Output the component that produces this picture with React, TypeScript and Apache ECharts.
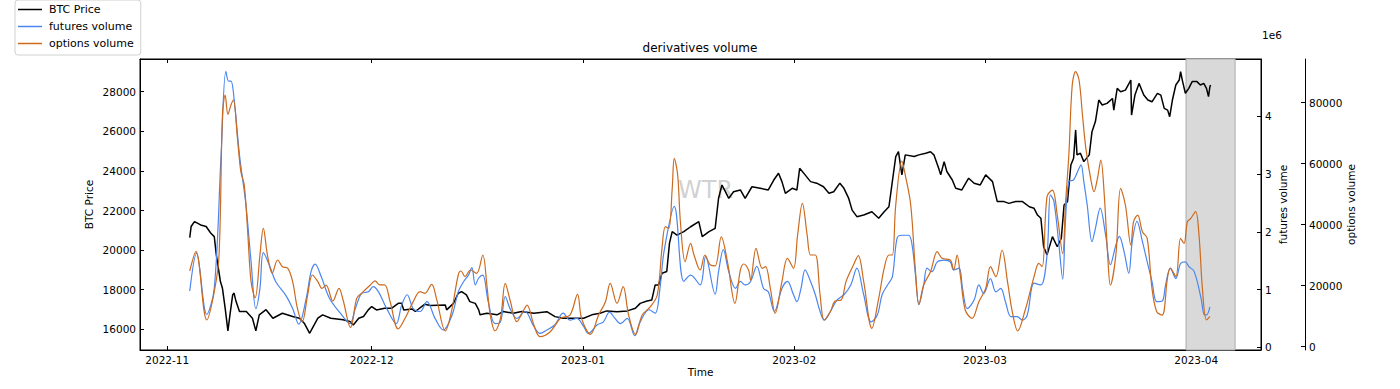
import { useEffect, useRef } from "react";
import * as echarts from "echarts";

// x positions are days since 2022-11-01 (local midnight)
const DAY_MS = 86400000;
const START = new Date(2022, 10, 1).getTime();
const X_MIN_DAY = -4.0;
const X_MAX_DAY = 160.5;
const SHADE_DAYS = [149.5, 156.7];

const seriesNames = ["BTC Price", "futures volume", "options volume"];

// [day, BTC price]
const btcPrice: [number, number][] = [
  [3.3, 20630], [3.5, 21190], [4.0, 21440], [4.9, 21270], [5.7, 21190], [6.4, 20850], [6.9, 20680],
  [7.2, 19760], [7.5, 19090], [7.8, 18410], [8.1, 18070], [8.5, 17060], [8.9, 15920], [9.2, 16730],
  [9.6, 17740], [9.8, 17830], [10.1, 17400], [10.6, 16900], [11.6, 16900], [12.5, 16560], [13.0, 15920],
  [13.5, 16730], [14.5, 16990], [15.5, 16560], [16.9, 16810], [18.4, 16650], [19.4, 16560], [20.1, 16310],
  [20.9, 15800], [21.3, 16060], [22.1, 16560], [22.8, 16730], [24.0, 16560], [25.8, 16480], [26.8, 16390],
  [27.3, 16220], [28.1, 16560], [28.8, 16650], [29.5, 16980], [30.0, 17150], [30.7, 16980], [31.9, 17060],
  [32.9, 17060], [33.9, 17310], [34.4, 17310], [34.7, 16980], [35.9, 17030], [36.4, 16900], [37.8, 17270],
  [38.6, 17200], [40.8, 17230], [41.0, 16980], [42.0, 17310], [42.7, 17820], [43.2, 17900], [43.9, 17740],
  [44.4, 17400], [45.2, 17310], [45.7, 16980], [45.9, 16730], [46.9, 16810], [48.4, 16730], [49.3, 16900],
  [50.8, 16810], [52.0, 16900], [53.8, 16810], [55.7, 16890], [56.9, 16640], [58.1, 16560], [59.1, 16560],
  [61.1, 16560], [62.3, 16730], [63.5, 16810], [64.5, 16930], [66.0, 16890], [67.5, 16930], [68.7, 17060],
  [69.4, 17310], [70.4, 17430], [71.1, 17480], [71.6, 18240], [72.1, 18240], [72.6, 18830], [73.3, 18920],
  [73.7, 20350], [74.1, 20930], [74.8, 20760], [75.8, 20930], [76.8, 21180], [78.0, 21440], [78.5, 20680],
  [79.5, 20930], [80.4, 21100], [80.9, 22620], [81.4, 23290], [81.9, 22950], [82.4, 22610], [83.1, 22950],
  [84.1, 23040], [84.8, 22610], [85.8, 23200], [87.0, 23120], [88.2, 23040], [89.0, 23540], [89.7, 23880],
  [90.2, 23460], [90.7, 22870], [91.7, 23120], [92.4, 23040], [92.8, 24130], [93.6, 23800], [94.4, 23460],
  [95.3, 23380], [96.3, 23200], [97.1, 22870], [97.8, 22950], [98.7, 23380], [99.3, 23120], [100.0, 22610],
  [100.5, 22020], [101.2, 21690], [102.2, 21770], [103.4, 21940], [104.4, 21610], [105.2, 21940],
  [105.9, 22190], [106.4, 23460], [106.9, 24720], [107.3, 24970], [107.8, 23800], [108.3, 24810],
  [109.6, 24730], [110.3, 24810], [111.3, 24890], [112.0, 24970], [112.5, 24810], [113.2, 24130],
  [113.5, 23800], [114.0, 24470], [114.4, 23970], [115.2, 23540], [115.7, 23120], [116.6, 23040],
  [117.6, 23630], [118.4, 23380], [119.3, 23290], [120.1, 23800], [121.1, 23460], [121.8, 22450],
  [122.8, 22450], [123.5, 22360], [124.5, 22450], [125.5, 22450], [126.5, 22190], [127.2, 22110],
  [127.7, 21770], [128.2, 21610], [128.6, 20170], [129.1, 19760], [129.9, 20680], [130.6, 20170],
  [131.2, 20600], [131.6, 22280], [132.1, 22450], [132.6, 24300], [133.0, 24640], [133.3, 26070],
  [133.5, 24810], [134.0, 24890], [134.5, 24470], [135.3, 24810], [135.7, 25980], [136.2, 26490],
  [136.7, 27580], [137.2, 27330], [137.9, 27410], [138.7, 27660], [138.9, 27070], [139.4, 28170],
  [139.9, 28000], [140.6, 28080], [141.4, 28590], [141.5, 26820], [142.0, 27830], [142.6, 28420],
  [143.3, 27830], [143.9, 27580], [144.5, 27490], [145.3, 27920], [145.8, 27830], [146.3, 27160],
  [146.8, 27070], [147.1, 26740], [147.5, 27580], [148.0, 28340], [148.5, 28590], [148.7, 29010],
  [149.0, 28510], [149.4, 27920], [149.9, 28170], [150.4, 28510], [151.1, 28510], [151.6, 28340],
  [152.1, 28420], [152.5, 28170], [152.8, 27750], [153.0, 28250], [153.1, 28340],
];

// [day, futures volume]
const futuresVolume: [number, number][] = [
  [3.3, 975000], [4.3, 1630000], [5.8, 570000], [6.9, 1020000], [7.9, 3330000], [8.6, 4780000],
  [9.0, 4610000], [9.35, 4610000], [9.8, 4310000], [10.6, 3330000], [11.55, 2460000], [12.3, 1480000],
  [13.0, 670000], [13.6, 1020000], [14.1, 1640000], [15.0, 1420000], [15.9, 1140000], [17.4, 900000],
  [18.4, 670000], [19.3, 400000], [20.4, 850000], [21.1, 1310000], [21.7, 1440000], [22.6, 1220000],
  [23.8, 850000], [25.4, 590000], [26.8, 410000], [27.6, 670000], [28.5, 930000], [29.5, 960000],
  [30.2, 1050000], [31.0, 960000], [32.2, 670000], [33.6, 410000], [34.4, 730000], [35.2, 910000],
  [36.1, 670000], [37.1, 620000], [38.1, 790000], [39.3, 500000], [40.5, 300000], [41.8, 560000],
  [42.7, 960000], [43.5, 1140000], [44.2, 1250000], [44.7, 1380000], [45.2, 1080000], [45.7, 1200000],
  [46.3, 1250000], [47.1, 790000], [48.1, 410000], [48.9, 440000], [49.6, 880000], [50.3, 670000],
  [51.3, 500000], [52.5, 620000], [53.8, 360000], [54.7, 240000], [55.7, 300000], [56.9, 390000],
  [58.1, 590000], [59.1, 470000], [60.1, 500000], [61.1, 360000], [61.8, 240000], [63.1, 390000],
  [64.0, 440000], [64.9, 610000], [65.7, 500000], [66.5, 410000], [67.5, 500000], [68.6, 200000],
  [69.4, 440000], [70.7, 650000], [71.6, 590000], [72.3, 1020000], [72.9, 1660000], [74.4, 2440000],
  [75.8, 1140000], [76.8, 1250000], [78.2, 1080000], [79.0, 1570000], [80.4, 920000], [80.9, 1310000],
  [81.6, 1690000], [82.4, 1310000], [83.4, 1020000], [84.1, 1140000], [84.8, 1080000], [85.6, 1140000],
  [86.5, 1400000], [87.5, 1020000], [88.2, 960000], [89.1, 620000], [90.2, 1020000], [91.0, 1140000],
  [91.9, 910000], [92.4, 790000], [93.0, 1020000], [93.6, 1340000], [94.4, 1140000], [95.1, 910000],
  [95.8, 620000], [96.4, 470000], [97.3, 620000], [98.3, 820000], [99.3, 910000], [100.3, 1080000],
  [101.2, 1370000], [102.2, 910000], [103.3, 440000], [104.2, 560000], [104.9, 910000], [105.7, 1080000],
  [106.4, 1220000], [107.1, 1890000], [107.8, 1940000], [108.8, 1940000], [109.3, 1770000],
  [109.8, 1250000], [110.3, 740000], [111.0, 1080000], [111.5, 1370000], [112.2, 1310000],
  [113.0, 1480000], [114.0, 1510000], [114.9, 1480000], [115.4, 1340000], [116.2, 1370000],
  [116.7, 1020000], [117.4, 670000], [118.4, 820000], [119.1, 1080000], [119.8, 930000],
  [120.8, 1190000], [121.6, 960000], [122.3, 1020000], [123.0, 790000], [123.8, 530000],
  [124.7, 530000], [125.5, 470000], [126.2, 560000], [127.2, 1110000], [128.2, 1080000],
  [129.1, 1600000], [129.6, 2640000], [130.1, 2530000], [130.8, 1830000], [131.4, 1180000],
  [131.8, 2180000], [132.3, 2870000], [133.0, 2900000], [133.8, 3100000], [134.1, 3160000],
  [134.5, 2870000], [135.0, 2460000], [135.7, 1830000], [136.2, 2060000], [136.9, 2410000],
  [137.7, 1940000], [138.4, 1430000], [139.2, 1770000], [139.7, 1920000], [140.4, 1660000],
  [141.1, 1280000], [141.6, 1830000], [142.3, 2180000], [143.1, 1830000], [143.8, 1480000],
  [144.5, 1140000], [145.2, 790000], [146.0, 800000], [146.5, 1080000], [147.2, 1370000],
  [148.0, 1190000], [148.7, 1450000], [149.4, 1480000], [149.9, 1400000], [150.7, 1310000],
  [151.7, 850000], [152.2, 560000], [152.5, 560000], [153.0, 700000],
];

// [day, options volume]
const optionsVolume: [number, number][] = [
  [3.3, 24820], [4.2, 31150], [5.8, 8750], [6.9, 18040], [7.6, 30060], [8.1, 75970], [8.5, 82520],
  [8.9, 76180], [9.35, 79240], [9.7, 80880], [10.3, 68310], [10.8, 57380], [11.3, 53000], [11.8, 37710],
  [12.3, 21330], [12.9, 16080], [13.6, 30060], [14.1, 38810], [14.7, 30060], [15.4, 24050], [16.2, 28430],
  [16.9, 26240], [17.7, 25700], [18.4, 21330], [19.1, 12580], [19.8, 8210], [20.6, 16950], [21.3, 23510],
  [22.1, 21330], [22.7, 19130], [23.3, 20220], [24.3, 14980], [25.2, 19130], [25.8, 15310], [26.9, 6240],
  [27.8, 15860], [28.5, 17500], [29.8, 20240], [30.5, 21550], [31.2, 20240], [31.9, 20240], [32.7, 14770],
  [33.9, 5810], [34.9, 9300], [36.1, 14770], [37.1, 18040], [37.8, 17500], [38.8, 20460], [39.5, 15860],
  [40.8, 5170], [41.7, 11480], [42.7, 23510], [43.1, 24820], [43.7, 22960], [44.5, 25150], [45.4, 24050],
  [46.3, 30060], [46.9, 20240], [47.4, 10380], [48.1, 5170], [48.9, 9300], [49.6, 20790], [50.3, 15310],
  [51.3, 8200], [52.3, 12030], [52.8, 13660], [53.8, 7110], [54.7, 3280], [56.2, 4920], [57.7, 9290],
  [59.1, 10380], [60.2, 17160], [60.8, 9290], [62.1, 4040], [63.3, 10380], [64.3, 14760], [65.0, 20770],
  [66.0, 14210], [66.9, 19670], [67.7, 10380], [68.7, 4040], [69.7, 10380], [70.9, 13120], [71.9, 16950],
  [72.6, 32250], [73.1, 39350], [73.6, 38810], [74.1, 51920], [74.4, 61750], [74.9, 56290], [75.3, 40980],
  [76.0, 27870], [76.8, 33880], [77.3, 30060], [78.2, 25140], [78.9, 30060], [79.7, 26780], [80.4, 26500],
  [81.3, 36000], [82.2, 27870], [83.3, 14210], [84.1, 25140], [84.6, 27120], [85.3, 25140], [85.6, 21860],
  [86.4, 32250], [87.3, 25690], [87.8, 26240], [88.5, 19130], [89.2, 10930], [90.2, 21320], [91.0, 28960],
  [91.9, 25690], [92.5, 36620], [93.2, 47000], [93.9, 36620], [94.4, 30060], [95.1, 30060], [95.8, 16950],
  [96.4, 8750], [97.3, 11480], [98.0, 14970], [98.9, 15310], [99.6, 21320], [100.7, 26780], [101.4, 29850],
  [102.2, 21320], [103.4, 6020], [104.4, 15850], [105.2, 25690], [105.9, 30060], [106.4, 30060],
  [106.9, 46460], [107.8, 60880], [108.3, 56290], [109.1, 46460], [109.8, 24590], [110.3, 13880],
  [111.0, 20220], [112.0, 24590], [113.0, 31150], [113.7, 28970], [114.9, 28430], [115.4, 25150],
  [115.9, 30060], [116.4, 22960], [117.1, 12030], [118.1, 9300], [119.1, 14760], [120.1, 19130],
  [120.8, 26240], [121.6, 22960], [122.5, 31700], [123.3, 21330], [124.0, 11480], [124.8, 5170],
  [125.9, 12030], [127.2, 22960], [127.9, 27330], [128.4, 26240], [129.1, 49190], [129.9, 51370],
  [130.6, 43170], [131.4, 30500], [131.8, 46460], [132.3, 62850], [132.8, 85810], [133.3, 90180],
  [133.8, 87450], [134.3, 75970], [134.8, 65040], [135.5, 55200], [136.0, 50830], [136.5, 55200],
  [137.0, 61220], [137.5, 49740], [138.0, 30060], [138.4, 20220], [139.2, 30060], [139.9, 51920],
  [140.6, 46460], [141.4, 33330], [141.8, 40980], [142.4, 43170], [143.1, 37710], [143.8, 35520],
  [144.5, 19130], [145.2, 11480], [146.0, 10380], [146.8, 22960], [147.2, 25690], [148.0, 22960],
  [148.7, 35520], [149.2, 33880], [149.7, 40980], [150.2, 42080], [150.9, 44270], [151.4, 36620],
  [151.9, 19130], [152.5, 8750], [153.0, 9840],
];

const priceRange = [14955, 29652];
const futuresRange = [-46800, 4992000];
const optionsRange = [-1082, 94330];

const FONT = "DejaVu Sans";
const toTime = (d: number) => START + d * DAY_MS;

export default function App() {
  const ref = useRef<HTMLDivElement>(null);

  useEffect(() => {
    document.body.style.margin = "0";
    if (!ref.current) return;
    const chart = echarts.init(ref.current, undefined, { renderer: "svg" });

    const axisLine = { show: true, onZero: false, lineStyle: { color: "#000", width: 1 } };
    const tick = { show: true, inside: true, length: 4, lineStyle: { color: "#000", width: 1 } };
    const lbl = { color: "#000", fontSize: 10.5, fontFamily: FONT };
    const nameStyle = { color: "#000", fontSize: 10.5, fontFamily: FONT };

    const xCommon = {
      type: "time" as const,
      min: toTime(X_MIN_DAY),
      max: toTime(X_MAX_DAY),
      minInterval: 28 * DAY_MS,
      maxInterval: 31 * DAY_MS,
      splitLine: { show: false },
      axisLine,
      axisTick: tick,
    };

    chart.setOption({
      animation: false,
      backgroundColor: "#fff",
      textStyle: { fontFamily: FONT },
      title: {
        text: "derivatives volume",
        left: "center",
        top: 37,
        textStyle: { fontSize: 12, fontWeight: "normal", color: "#000", fontFamily: FONT },
      },
      legend: {
        data: seriesNames,
        orient: "vertical",
        left: 15,
        top: 0,
        icon: "rect",
        itemWidth: 24,
        itemHeight: 1.5,
        itemGap: 6,
        padding: [4, 7, 6, 3],
        borderColor: "#d0d0d0",
        borderWidth: 1,
        borderRadius: 3,
        backgroundColor: "#fff",
        textStyle: { color: "#000", fontSize: 11, fontFamily: FONT, padding: [0, 0, 0, 2] },
      },
      grid: {
        left: 140,
        right: 139,
        top: 59,
        height: 291,
        show: true,
        borderColor: "#000",
        borderWidth: 1,
        backgroundColor: "transparent",
        outerBoundsMode: "none",
      },
      graphic: [
        {
          type: "text",
          left: 678,
          top: 178,
          z: 0,
          silent: true,
          style: { text: "WTR", fontSize: 24, fontFamily: FONT, fill: "rgba(150,150,150,0.45)" },
        },
        {
          type: "text",
          left: 1262,
          top: 29,
          style: { text: "1e6", fontSize: 10.5, fontFamily: FONT, fill: "#000" },
        },
      ],
      xAxis: [
        {
          ...xCommon,
          position: "bottom",
          name: "Time",
          nameLocation: "middle",
          nameGap: 16,
          nameMoveOverlap: false,
          nameTextStyle: nameStyle,
          axisLabel: { ...lbl, margin: 4, formatter: "{yyyy}-{MM}", showMinLabel: false, showMaxLabel: false },
        },
        {
          ...xCommon,
          position: "top",
          axisLabel: { show: false },
        },
      ],
      yAxis: [
        {
          type: "value",
          position: "left",
          min: priceRange[0],
          max: priceRange[1],
          splitNumber: 7,
          splitLine: { show: false },
          axisLine,
          axisTick: tick,
          axisLabel: {
            ...lbl,
            margin: 4,
            showMinLabel: false,
            showMaxLabel: false,
            formatter: (v: number) => String(Math.round(v)),
          },
          name: "BTC Price",
          nameLocation: "middle",
          nameRotate: 90,
          nameGap: 46,
          nameMoveOverlap: false,
          nameTextStyle: nameStyle,
        },
        {
          type: "value",
          position: "right",
          min: futuresRange[0],
          max: futuresRange[1],
          splitNumber: 5,
          splitLine: { show: false },
          axisLine,
          axisTick: tick,
          axisLabel: {
            ...lbl,
            margin: 4,
            showMinLabel: false,
            showMaxLabel: false,
            formatter: (v: number) => String(Math.round(v / 1e6)),
          },
          name: "futures volume",
          nameLocation: "middle",
          nameRotate: 90,
          nameGap: 16,
          nameMoveOverlap: false,
          nameTextStyle: nameStyle,
        },
        {
          type: "value",
          position: "right",
          offset: 44,
          min: optionsRange[0],
          max: optionsRange[1],
          splitNumber: 5,
          splitLine: { show: false },
          axisLine,
          axisTick: tick,
          axisLabel: {
            ...lbl,
            margin: 4,
            showMinLabel: false,
            showMaxLabel: false,
            formatter: (v: number) => String(Math.round(v)),
          },
          name: "options volume",
          nameLocation: "middle",
          nameRotate: 90,
          nameGap: 40,
          nameMoveOverlap: false,
          nameTextStyle: nameStyle,
        },
      ],
      series: [
        {
          name: seriesNames[0],
          type: "line",
          xAxisIndex: 0,
          yAxisIndex: 0,
          symbol: "none",
          z: 3,
          data: btcPrice.map(([d, v]) => [toTime(d), v]),
          lineStyle: { color: "#000", width: 1.5 },
          itemStyle: { color: "#000" },
          markArea: {
            silent: true,
            itemStyle: { color: "#d9d9d9", borderColor: "#ababab", borderWidth: 1 },
            data: [[{ xAxis: toTime(SHADE_DAYS[0]) }, { xAxis: toTime(SHADE_DAYS[1]) }]],
          },
        },
        {
          name: seriesNames[1],
          type: "line",
          xAxisIndex: 1,
          yAxisIndex: 1,
          symbol: "none",
          smooth: 0.35,
          z: 4,
          data: futuresVolume.map(([d, v]) => [toTime(d), v]),
          lineStyle: { color: "#4a86f0", width: 1.2 },
          itemStyle: { color: "#4a86f0" },
        },
        {
          name: seriesNames[2],
          type: "line",
          xAxisIndex: 0,
          yAxisIndex: 2,
          symbol: "none",
          smooth: 0.35,
          z: 5,
          data: optionsVolume.map(([d, v]) => [toTime(d), v]),
          lineStyle: { color: "#cc6a1e", width: 1.2 },
          itemStyle: { color: "#cc6a1e" },
        },
      ],
    });

    return () => chart.dispose();
  }, []);

  return <div ref={ref} style={{ width: 1400, height: 389 }} />;
}
